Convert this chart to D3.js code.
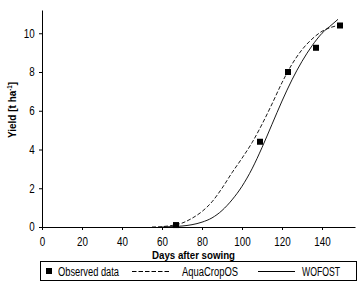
<!DOCTYPE html>
<html>
<head>
<meta charset="utf-8">
<script src="https://cdn.jsdelivr.net/npm/d3@7"></script>
<style>
    body { margin: 0; background: #fff; }
    svg text { font-family: "Liberation Sans", Arial, sans-serif; fill: #000; }
</style>
</head>
<body>
<div id="chart"></div>
<script>
// observed yield
const obsDays = [67, 109, 123, 137, 149];
const obsYield = [0.1, 4.4, 8.0, 9.25, 10.4];

// simulated yield, AquaCropOS (dashed)
const aquaDays = [55, 60, 65, 70, 75, 80, 85, 90, 95, 100, 105, 110, 115, 120, 125, 130, 135, 140, 145, 149];
const aquaYield = [0, 0.02, 0.08, 0.2, 0.45, 0.8, 1.3, 2.0, 2.8, 3.55, 4.35, 5.3, 6.35, 7.45, 8.4, 9.15, 9.7, 10.1, 10.32, 10.42];

// simulated yield, WOFOST (solid)
const wofDays = [60, 65, 70, 75, 80, 85, 90, 95, 100, 105, 110, 115, 120, 125, 130, 135, 140, 145, 148];
const wofYield = [0, 0.02, 0.05, 0.12, 0.25, 0.47, 0.85, 1.4, 2.1, 3.0, 4.1, 5.3, 6.5, 7.6, 8.55, 9.35, 10.0, 10.45, 10.72];

const xTicks = [0, 20, 40, 60, 80, 100, 120, 140];
const yTicks = [0, 2, 4, 6, 8, 10];

const width = 362, height = 287;
const margin = {top: 10, right: 7, bottom: 60, left: 42};
const w = width - margin.left - margin.right;
const h = height - margin.top - margin.bottom;
const narrow = "scale(0.82,1)";

const svg = d3.select("#chart").append("svg")
    .attr("width", width)
    .attr("height", height);

const g = svg.append("g")
    .attr("transform", "translate(" + margin.left + "," + margin.top + ")");

const x = d3.scaleLinear().domain([0, 156.5]).range([0, w]);
const y = d3.scaleLinear().domain([0, 11.2]).range([h, 0]);

const xAxis = g.append("g")
    .attr("transform", "translate(0," + h + ")")
    .call(d3.axisBottom(x).tickValues(xTicks).tickSize(3).tickSizeOuter(0));

const yAxis = g.append("g")
    .call(d3.axisLeft(y).tickValues(yTicks).tickSize(3).tickSizeOuter(0));

[xAxis, yAxis].forEach(a => {
    a.selectAll("path, line").attr("stroke", "#000").attr("stroke-width", 1);
    a.selectAll("text").attr("font-size", 12)
        .attr("font-family", "Liberation Sans, Arial, sans-serif")
        .attr("transform", narrow);
});
xAxis.selectAll("text").attr("dy", "1.1em");
yAxis.selectAll("text").attr("x", -9);

// axis titles
svg.append("text")
    .attr("x", 193.5)
    .attr("y", 259)
    .attr("text-anchor", "middle")
    .attr("font-size", 11.5)
    .attr("font-weight", "bold")
    .attr("textLength", 83)
    .attr("lengthAdjust", "spacingAndGlyphs")
    .text("Days after sowing");

const yTitle = svg.append("text")
    .attr("transform", "translate(16,110) rotate(-90)")
    .attr("text-anchor", "middle")
    .attr("font-size", 11.5)
    .attr("font-weight", "bold")
    .attr("textLength", 56)
    .attr("lengthAdjust", "spacingAndGlyphs");
yTitle.append("tspan").text("Yield [t ha");
yTitle.append("tspan").attr("font-size", 7).attr("dy", -4).text("-1");
yTitle.append("tspan").attr("dy", 4).text("]");

const line = d3.line()
    .curve(d3.curveMonotoneX)
    .x(d => x(d[0]))
    .y(d => y(d[1]));

g.append("path")
    .datum(aquaDays.map((d, i) => [d, aquaYield[i]]))
    .attr("fill", "none")
    .attr("stroke", "#000")
    .attr("stroke-width", 0.9)
    .attr("stroke-dasharray", "4,2")
    .attr("d", line);

g.append("path")
    .datum(wofDays.map((d, i) => [d, wofYield[i]]))
    .attr("fill", "none")
    .attr("stroke", "#000")
    .attr("stroke-width", 0.9)
    .attr("d", line);

const size = 6;
g.selectAll("rect.obs")
    .data(obsDays.map((d, i) => [d, obsYield[i]]))
    .enter().append("rect")
    .attr("class", "obs")
    .attr("x", d => x(d[0]) - size / 2)
    .attr("y", d => y(d[1]) - size / 2)
    .attr("width", size)
    .attr("height", size)
    .attr("fill", "#000");

// legend
const legend = svg.append("g");
legend.append("rect")
    .attr("x", 40.5).attr("y", 261.5)
    .attr("width", 316).attr("height", 19)
    .attr("fill", "none").attr("stroke", "#000").attr("stroke-width", 1);

const legendText = (lx, len, label) => legend.append("text")
    .attr("x", lx).attr("y", 275.5)
    .attr("font-size", 12)
    .attr("textLength", len)
    .attr("lengthAdjust", "spacingAndGlyphs")
    .text(label);

legend.append("rect")
    .attr("x", 46).attr("y", 268).attr("width", 6).attr("height", 6).attr("fill", "#000");
legendText(58, 61, "Observed data");

legend.append("line")
    .attr("x1", 132).attr("x2", 171).attr("y1", 271.5).attr("y2", 271.5)
    .attr("stroke", "#000").attr("stroke-dasharray", "4.5,2");
legendText(182, 56, "AquaCropOS");

legend.append("line")
    .attr("x1", 258).attr("x2", 295).attr("y1", 271.5).attr("y2", 271.5)
    .attr("stroke", "#000");
legendText(302, 38, "WOFOST");
</script>
</body>
</html>
